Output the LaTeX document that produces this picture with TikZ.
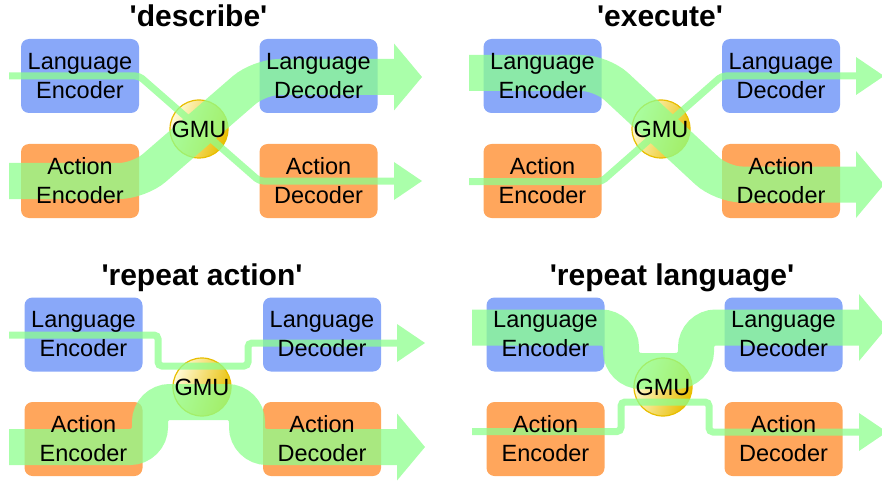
\documentclass[tikz,border=0pt]{standalone}
\usepackage{fontspec}
\setmainfont{Liberation Sans}
\usetikzlibrary{arrows.meta}
\definecolor{encblue}{RGB}{137,168,249}
\definecolor{actorange}{RGB}{255,166,92}
\definecolor{flowgreen}{RGB}{141,255,141}
\definecolor{gmugold}{RGB}{232,190,0}
\definecolor{gmupale}{RGB}{255,250,215}
\begin{document}
\begin{tikzpicture}[x=1pt,y=-1pt,
  langbox/.style={fill=encblue, rounded corners=8pt, minimum width=118pt, minimum height=74pt, inner sep=0pt},
  actbox/.style={fill=actorange, rounded corners=8pt, minimum width=118pt, minimum height=74pt, inner sep=0pt},
  boxlabel/.style={font=\fontsize{23.5}{29}\selectfont, align=center, inner sep=0pt},
  paneltitle/.style={font=\bfseries\fontsize{30}{36}\selectfont, anchor=base, inner sep=0pt},
  gmu/.style={circle, minimum size=58pt, inner sep=0pt, draw=gmugold, line width=1.2pt,
    left color=gmupale, right color=gmugold, shading angle=70},
  gmulabel/.style={font=\fontsize{23.5}{29}\selectfont, inner sep=0pt},
  thinflow/.style={draw=flowgreen, line width=7pt, rounded corners=4pt,
    -{Triangle[length=28pt,width=38pt,line width=0pt]}},
  thickflow/.style={draw=flowgreen, line width=36pt, rounded corners=20pt,
    -{Triangle[length=28pt,width=67pt,line width=0pt]}},
  flows/.style={transparency group, opacity=0.75}
]
\useasboundingbox (0,0) rectangle (882,481);

% ---------- titles ----------
\node[paneltitle] (t1) at (198.5,27) {\textquotesingle describe\textquotesingle};
\node[paneltitle] (t2) at (660,27) {\textquotesingle execute\textquotesingle};
\node[paneltitle] (t3) at (202,285) {\textquotesingle repeat action\textquotesingle};
\node[paneltitle] (t4) at (672,285) {\textquotesingle repeat language\textquotesingle};

% ---------- boxes ----------
\node[langbox] (d-le) at (80,76) {};
\node[actbox]  (d-ae) at (80,181) {};
\node[langbox] (d-ld) at (318.5,76) {};
\node[actbox]  (d-ad) at (318.5,181) {};
\node[gmu] (d-gmu) at (199,129) {};

\node[langbox] (e-le) at (542.5,76) {};
\node[actbox]  (e-ae) at (542.5,181) {};
\node[langbox] (e-ld) at (781,76) {};
\node[actbox]  (e-ad) at (781,181) {};
\node[gmu] (e-gmu) at (661,129) {};

\node[langbox] (a-le) at (83.5,334.5) {};
\node[actbox]  (a-ae) at (83.5,439) {};
\node[langbox] (a-ld) at (322,334.5) {};
\node[actbox]  (a-ad) at (322,439) {};
\node[gmu] (a-gmu) at (202,387) {};

\node[langbox] (l-le) at (545.5,334.5) {};
\node[actbox]  (l-ae) at (545.5,439) {};
\node[langbox] (l-ld) at (783.5,334.5) {};
\node[actbox]  (l-ad) at (783.5,439) {};
\node[gmu] (l-gmu) at (663,387) {};

% ---------- flow end points ----------
\coordinate (d-lin) at (9,76);     \coordinate (d-ain) at (9,181);
\coordinate (d-lout) at (422,77);  \coordinate (d-aout) at (422,181);
\coordinate (e-lin) at (469,73);   \coordinate (e-ain) at (469,181.5);
\coordinate (e-lout) at (884,76);  \coordinate (e-aout) at (884,184.5);
\coordinate (a-lin) at (9,335);    \coordinate (a-ain) at (9,447);
\coordinate (a-lout) at (425,343); \coordinate (a-aout) at (425,447);
\coordinate (l-lin) at (472,327.5); \coordinate (l-ain) at (472,431.5);
\coordinate (l-lout) at (887,327.5); \coordinate (l-aout) at (887,432);

% ---------- flows: 'describe' ----------
\begin{scope}[flows]
  \draw[thinflow] (d-lin) -- (d-le.east |- d-lin) -- (d-ad.west |- d-aout) -- (d-aout);
  \draw[thickflow] (d-ain) -- (d-ae.east |- d-ain) -- (d-ld.west |- d-lout) -- (d-lout);
\end{scope}

% ---------- flows: 'execute' ----------
\begin{scope}[flows]
  \draw[thinflow] (e-ain) -- (e-ae.east |- e-ain) -- (e-ld.west |- e-lout) -- (e-lout);
  \draw[thickflow] (e-lin) -- (e-le.east |- e-lin) -- (e-ad.west |- e-aout) -- (e-aout);
\end{scope}

% ---------- flows: 'repeat action' ----------
\begin{scope}[flows]
  \draw[thinflow] (a-lin) -- (158,335) -- (158,366) -- (248,366) -- (248,343) -- (a-lout);
  \draw[thickflow] (a-ain) -- (150,447) -- (150,402) -- (247,402) -- (247,447) -- (a-aout);
\end{scope}

% ---------- flows: 'repeat language' ----------
\begin{scope}[flows]
  \draw[thinflow] (l-ain) -- (621,431.5) -- (621,402) -- (709,402) -- (709,432) -- (l-aout);
  \draw[thickflow] (l-lin) -- (621,327.5) -- (621,371) -- (696,371) -- (696,327.5) -- (l-lout);
\end{scope}

% ---------- labels ----------
\foreach \p in {d,e,a,l} {
  \node[boxlabel] at (\p-le) {Language\\Encoder};
  \node[boxlabel] at (\p-ae) {Action\\Encoder};
  \node[boxlabel] at (\p-ld) {Language\\Decoder};
  \node[boxlabel] at (\p-ad) {Action\\Decoder};
  \node[gmulabel] at (\p-gmu) {GMU};
}
\end{tikzpicture}
\end{document}
